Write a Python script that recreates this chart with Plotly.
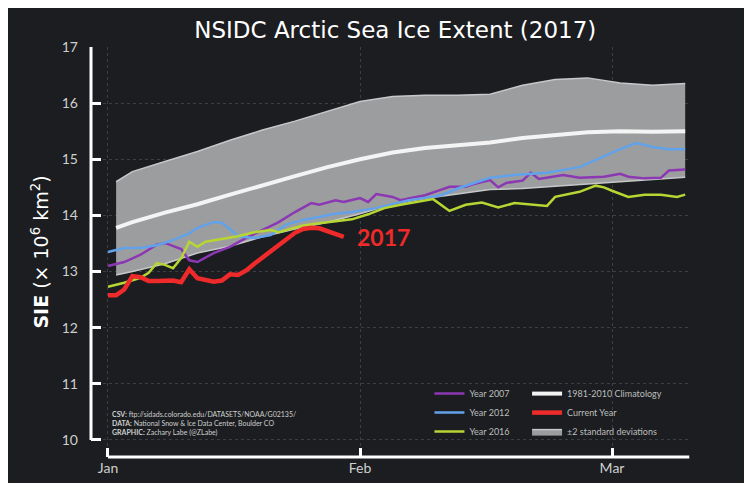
import plotly.graph_objects as go

# ---------------- data ----------------
# x values are day indices counted from the "Jan" tick
band_days = [1, 3, 7, 11, 15, 19, 23, 27, 31, 35, 39, 43, 47, 51, 55, 59, 63, 67, 71]
clim_upper = [14.60, 14.78, 14.96, 15.14, 15.34, 15.52, 15.68, 15.86, 16.03, 16.12,
              16.14, 16.14, 16.16, 16.32, 16.42, 16.45, 16.36, 16.32, 16.35]
clim_lower = [12.94, 13.00, 13.14, 13.33, 13.45, 13.62, 13.76, 13.88, 14.03, 14.20,
              14.30, 14.38, 14.46, 14.48, 14.52, 14.56, 14.59, 14.63, 14.68]
clim_mean = [13.78, 13.88, 14.05, 14.20, 14.37, 14.54, 14.70, 14.86, 15.00, 15.12,
             15.20, 15.25, 15.30, 15.38, 15.43, 15.48, 15.50, 15.49, 15.50]

y2007_days = [0, 2, 4, 6, 7, 8, 9, 10, 11, 13, 15, 17, 19, 21, 23, 25, 26, 28, 29, 31,
              32, 33, 35, 36, 37, 39, 41, 42, 44, 45, 47, 48, 49, 51, 52, 53, 56, 58,
              61, 63, 64, 66, 68, 69, 71]
y2007_vals = [13.10, 13.17, 13.30, 13.48, 13.51, 13.46, 13.40, 13.20, 13.17, 13.33,
              13.44, 13.60, 13.74, 13.88, 14.06, 14.22, 14.19, 14.27, 14.24, 14.31,
              14.24, 14.38, 14.33, 14.27, 14.30, 14.36, 14.46, 14.51, 14.51, 14.56,
              14.63, 14.50, 14.58, 14.62, 14.76, 14.65, 14.72, 14.67, 14.69, 14.74,
              14.69, 14.66, 14.67, 14.80, 14.82]

y2012_days = [0, 2, 4, 6, 8, 10, 11, 13, 14, 15, 16, 18, 20, 22, 24, 26, 28, 30, 33,
              35, 37, 39, 41, 43, 45, 47, 50, 54, 58, 60, 62, 63, 65, 67, 69, 71]
y2012_vals = [13.35, 13.42, 13.42, 13.47, 13.56, 13.68, 13.78, 13.88, 13.87, 13.76,
              13.63, 13.60, 13.65, 13.84, 13.92, 13.97, 14.03, 14.06, 14.13, 14.20,
              14.27, 14.31, 14.36, 14.48, 14.58, 14.67, 14.72, 14.76, 14.86, 14.99,
              15.11, 15.18, 15.29, 15.22, 15.18, 15.18]

y2016_days = [0, 2, 4, 5, 6, 7, 8, 9, 10, 11, 12, 14, 16, 18, 20, 21, 22, 24, 26, 28,
              30, 32, 34, 36, 39, 40, 42, 44, 46, 48, 50, 52, 54, 55, 58, 60, 61, 62,
              64, 66, 68, 70, 71]
y2016_vals = [12.73, 12.80, 12.89, 12.98, 13.15, 13.12, 13.06, 13.24, 13.53, 13.44,
              13.53, 13.58, 13.63, 13.70, 13.74, 13.70, 13.74, 13.82, 13.86, 13.90,
              13.93, 14.02, 14.13, 14.19, 14.27, 14.29, 14.08, 14.19, 14.23, 14.14,
              14.22, 14.19, 14.17, 14.33, 14.42, 14.53, 14.50, 14.44, 14.33, 14.37,
              14.37, 14.33, 14.37]

y2017_days = [0, 1, 2, 3, 4, 5, 6, 8, 9, 10, 11, 12, 13, 14, 15, 16, 17, 18, 20, 21,
              22, 23, 24, 25, 26, 27, 28, 29]
y2017_vals = [12.58, 12.58, 12.68, 12.92, 12.90, 12.83, 12.83, 12.84, 12.81, 13.04,
              12.88, 12.84, 12.82, 12.84, 12.95, 12.94, 13.02, 13.14, 13.36, 13.45,
              13.58, 13.69, 13.76, 13.78, 13.77, 13.72, 13.66, 13.62]

month_days = [0, 31, 62]
month_labels = ["Jan", "Feb", "Mar"]
sie_ticks = [10, 11, 12, 13, 14, 15, 16, 17]

# ---------------- styling ----------------
BG = "#1b1d20"
FONT = "Lato, 'Open Sans', sans-serif"
TFONT = "'DejaVu Sans', sans-serif"
C2007, C2012, C2016 = "#8c37b3", "#62a2ea", "#b7d634"
CCLIM, CNOW, CBAND = "#f4f4f4", "#ee2a2a", "#9c9d9f"

fig = go.Figure()

fig.add_trace(go.Scatter(x=band_days, y=clim_upper, mode="lines",
                         line=dict(color="#c6c7c9", width=1.5),
                         showlegend=False, legend="legend2", hoverinfo="skip"))
fig.add_trace(go.Scatter(x=band_days, y=clim_lower, mode="lines",
                         line=dict(color="#c6c7c9", width=1.5),
                         fill="tonexty", fillcolor=CBAND,
                         name="\u00b12 standard deviations",
                         legend="legend2", legendrank=3))

for d, v, c, n in [(y2007_days, y2007_vals, C2007, "Year 2007"),
                   (y2012_days, y2012_vals, C2012, "Year 2012"),
                   (y2016_days, y2016_vals, C2016, "Year 2016")]:
    fig.add_trace(go.Scatter(x=d, y=v, mode="lines", name=n,
                             line=dict(color=c, width=2.5), legend="legend"))

fig.add_trace(go.Scatter(x=band_days, y=clim_mean, mode="lines",
                         name="1981-2010 Climatology",
                         line=dict(color=CCLIM, width=4),
                         legend="legend2", legendrank=1))
fig.add_trace(go.Scatter(x=y2017_days, y=y2017_vals, mode="lines",
                         name="Current Year",
                         line=dict(color=CNOW, width=4.5),
                         legend="legend2", legendrank=2))

fig.add_annotation(x=y2017_days[-1], y=y2017_vals[-1], xref="x", yref="y",
                   text="<b>2017</b>", showarrow=False, xanchor="left",
                   yanchor="middle", xshift=11,
                   font=dict(family=FONT, size=23, color=CNOW))

fig.add_annotation(xref="paper", yref="paper", x=0.031, y=0.045,
                   xanchor="left", yanchor="bottom", align="left", showarrow=False,
                   text=("<b>CSV:</b> ftp://sidads.colorado.edu/DATASETS/NOAA/G02135/<br>"
                         "<b>DATA:</b> National Snow &amp; Ice Data Center, Boulder CO<br>"
                         "<b>GRAPHIC:</b> Zachary Labe (@ZLabe)"),
                   font=dict(family=FONT, size=7, color="#cfcfcf"))

# offset spines
fig.add_shape(type="line", xref="paper", yref="y", x0=0, x1=0,
              y0=sie_ticks[0], y1=sie_ticks[-1], line=dict(color="white", width=3))
fig.add_shape(type="line", xref="x", yref="paper", x0=month_days[0], x1=71.5,
              y0=0, y1=0, line=dict(color="white", width=3))

axis_common = dict(ticks="inside", tickwidth=3, tickcolor="white", showline=False,
                   zeroline=False, showgrid=True, gridcolor="#3b3e43", griddash="dot",
                   gridwidth=1, automargin=False,
                   tickfont=dict(family=FONT, size=14, color="#cfcfcf"))

fig.update_layout(
    width=752, height=483,
    margin=dict(l=83, r=70, t=39, b=34, autoexpand=False),
    paper_bgcolor=BG, plot_bgcolor=BG,
    font=dict(family=FONT, color="#cfcfcf"),
    title=dict(text="NSIDC Arctic Sea Ice Extent (2017)", x=0.515, xref="container",
               xanchor="center", y=0.954, yref="container", yanchor="middle",
               font=dict(family=TFONT, size=23, color="white")),
    xaxis=dict(range=[-2.09, 71.59], tickvals=month_days, ticktext=month_labels,
               ticklen=9, ticklabelstandoff=1, **axis_common),
    yaxis=dict(range=[9.697, 17], tickvals=sie_ticks, ticklen=10,
               ticklabelstandoff=12,
               title=dict(text="<b>SIE</b> (\u00d7 10<sup>6</sup> km<sup>2</sup>)",
                          font=dict(family=TFONT, size=19, color="white"), standoff=8),
               **axis_common),
    legend=dict(x=0.565, y=0.19, xanchor="left", yanchor="top",
                bgcolor="rgba(0,0,0,0)", itemwidth=30, tracegroupgap=0,
                traceorder="normal",
                font=dict(family=FONT, size=9, color="#bdbdbd")),
    legend2=dict(x=0.728, y=0.19, xanchor="left", yanchor="top",
                 bgcolor="rgba(0,0,0,0)", itemwidth=30, tracegroupgap=0,
                 traceorder="normal",
                 font=dict(family=FONT, size=9, color="#bdbdbd")),
    showlegend=True,
)

fig.write_html("out.html")
